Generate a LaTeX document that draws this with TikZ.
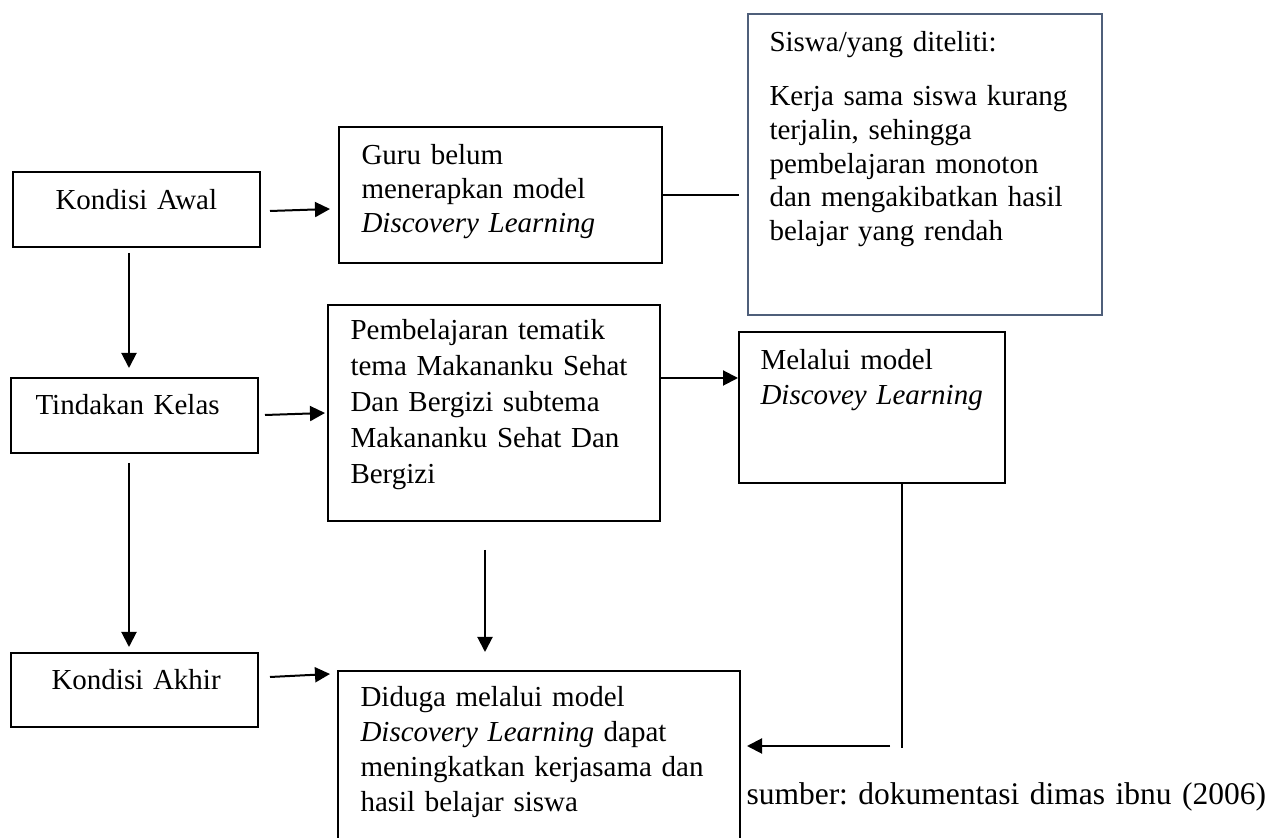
\documentclass[tikz,border=0pt]{standalone}
\usepackage{fontspec}
\setmainfont{Liberation Serif}
\usetikzlibrary{arrows.meta,fit}
\definecolor{boxblue}{HTML}{4F5F7A}
\frenchspacing
\begin{document}
\begin{tikzpicture}[x=0.4pt,y=-0.4pt,
  box/.style={draw, line width=0.8pt, inner sep=0pt},
  bluebox/.style={draw=boxblue, line width=1pt, inner sep=0pt},
  txt/.style={inner sep=0pt, font=\fontsize{11.6}{13.6}\selectfont, align=left, text width=#1},
  txt/.default=170pt,
  arr/.style={line width=0.8pt, -{Triangle[length=6pt,width=6pt]}},
  ln/.style={line width=0.8pt}]
\useasboundingbox (0,0) rectangle (1269,838);
\clip (0,0) rectangle (1269,838);

% boxes
\node[box, fit={(13,172)(260,247)}] (awal) {};
\node[box, fit={(11,378)(258,453)}] (tindakan) {};
\node[box, fit={(11,653)(258,727)}] (akhir) {};
\node[box, fit={(339,127)(662,263)}] (guru) {};
\node[bluebox, fit={(748,14)(1102,315)}] (siswa) {};
\node[box, fit={(328,305)(660,521)}] (pemb) {};
\node[box, fit={(739,332)(1005,483)}] (melalui) {};
\node[box, fit={(338,671)(740,870)}] (diduga) {};

% texts
\node[txt, anchor=base west] (tawal) at (55,210) {Kondisi Awal};
\node[txt, anchor=base west] (ttindakan) at (35,415) {Tindakan Kelas};
\node[txt, anchor=base west] (takhir) at (51,690) {Kondisi Akhir};
\node[txt, anchor=base west] (tguru) at (361,165) {Guru belum\\ menerapkan model\\ \textit{Discovery Learning}};
\node[txt, anchor=base west, font=\fontsize{11.6}{13.5}\selectfont] (tsiswa) at (769,52) {Siswa/yang diteliti:\\[8pt] Kerja sama siswa kurang\\ terjalin, sehingga\\ pembelajaran monoton\\ dan mengakibatkan hasil\\ belajar yang rendah};
\node[txt, anchor=base west, font=\fontsize{11.6}{14.4}\selectfont] (tpemb) at (350,340) {Pembelajaran tematik\\ tema Makananku Sehat\\ Dan Bergizi subtema\\ Makananku Sehat Dan\\ Bergizi};
\node[txt, anchor=base west, font=\fontsize{11.6}{14}\selectfont] (tmelalui) at (760,370) {Melalui model\\ \textit{Discovey Learning}};
\node[txt, anchor=base west, font=\fontsize{11.6}{14}\selectfont] (tduga) at (360,707) {Diduga melalui model\\ \textit{Discovery Learning} dapat\\ meningkatkan kerjasama dan\\ hasil belajar siswa};
\node[txt=230pt, anchor=base west, font=\fontsize{12.6}{15}\selectfont] (sumber) at (746,805) {sumber: dokumentasi dimas ibnu (2006)};

% connector end points
\coordinate (c1a) at (270,211); \coordinate (c1b) at (330,209);
\coordinate (c2a) at (129,253); \coordinate (c2b) at (129,368);
\coordinate (c3a) at (265,415); \coordinate (c3b) at (325,413);
\coordinate (c4a) at (129,463); \coordinate (c4b) at (129,647);
\coordinate (c5a) at (485,550); \coordinate (c5b) at (485,652);
\coordinate (c6a) at (270,677); \coordinate (c6b) at (330,674);
\coordinate (c7) at (739,195);
\coordinate (c8) at (0,378);
\coordinate (c9) at (902,748);
\coordinate (c10a) at (890,746); \coordinate (c10b) at (747,746);

% connectors
\draw[arr] (c1a) -- (c1b);
\draw[ln] (guru.east) -- (c7);
\draw[arr] (c2a) -- (c2b);
\draw[arr] (c3a) -- (c3b);
\draw[arr] (pemb.east |- c8) -- (melalui.west |- c8);
\draw[arr] (c4a) -- (c4b);
\draw[arr] (c5a) -- (c5b);
\draw[arr] (c6a) -- (c6b);
\draw[ln] (melalui.south -| c9) -- (c9);
\draw[arr] (c10a) -- (c10b);
\end{tikzpicture}
\end{document}
